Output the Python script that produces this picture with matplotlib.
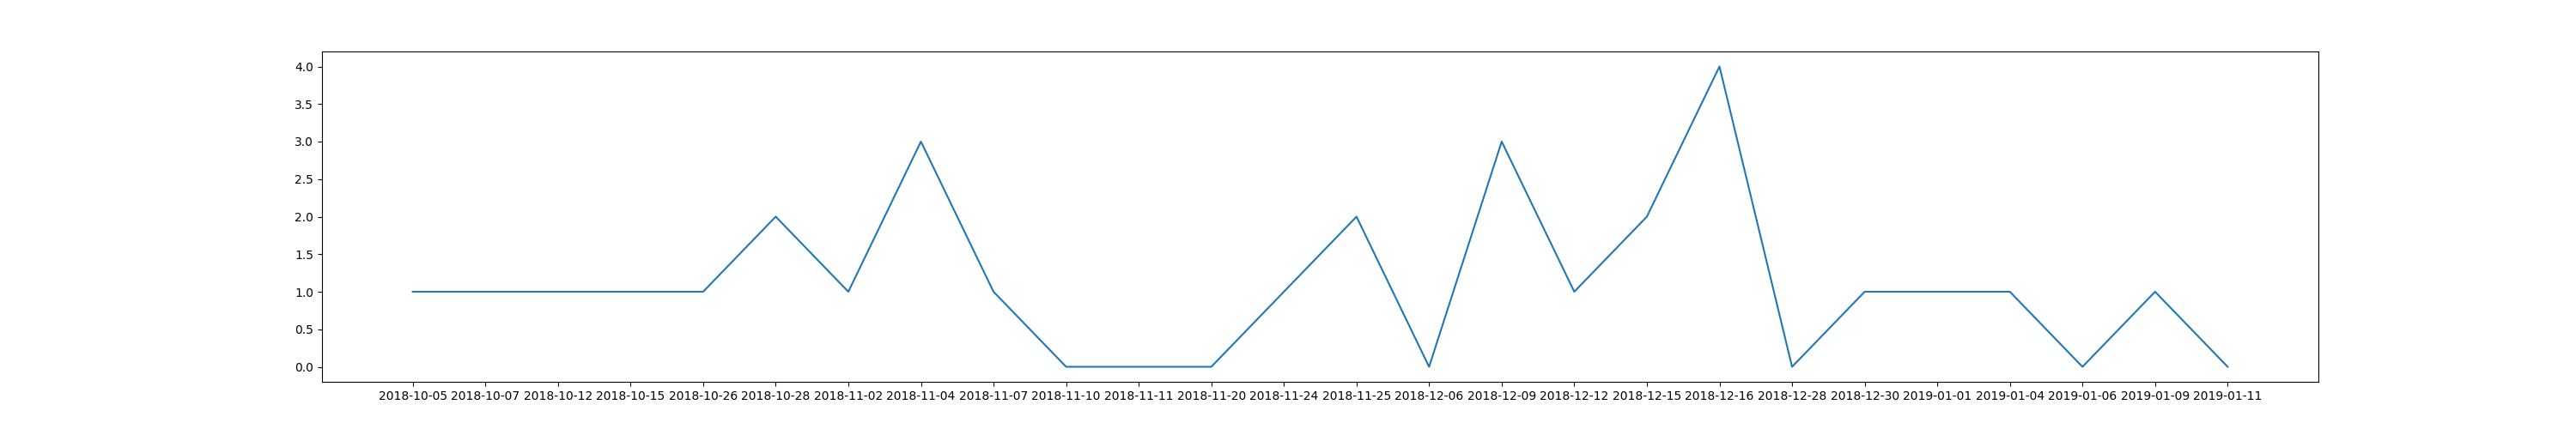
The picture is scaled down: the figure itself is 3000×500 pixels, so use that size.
import matplotlib
matplotlib.use("Agg")
import matplotlib.pyplot as plt

dates = ['2018-10-05', '2018-10-07', '2018-10-12', '2018-10-15', '2018-10-26',
         '2018-10-28', '2018-11-02', '2018-11-04', '2018-11-07', '2018-11-10',
         '2018-11-11', '2018-11-20', '2018-11-24', '2018-11-25', '2018-12-06',
         '2018-12-09', '2018-12-12', '2018-12-15', '2018-12-16', '2018-12-28',
         '2018-12-30', '2019-01-01', '2019-01-04', '2019-01-06', '2019-01-09',
         '2019-01-11']
counts = [1, 1, 1, 1, 1, 2, 1, 3, 1, 0, 0, 0, 1, 2, 0, 3, 1, 2, 4, 0, 1, 1, 1, 0, 1, 0]

fig, ax = plt.subplots(figsize=(30, 5), dpi=100)
ax.plot(dates, counts)
fig.savefig('out.png')
